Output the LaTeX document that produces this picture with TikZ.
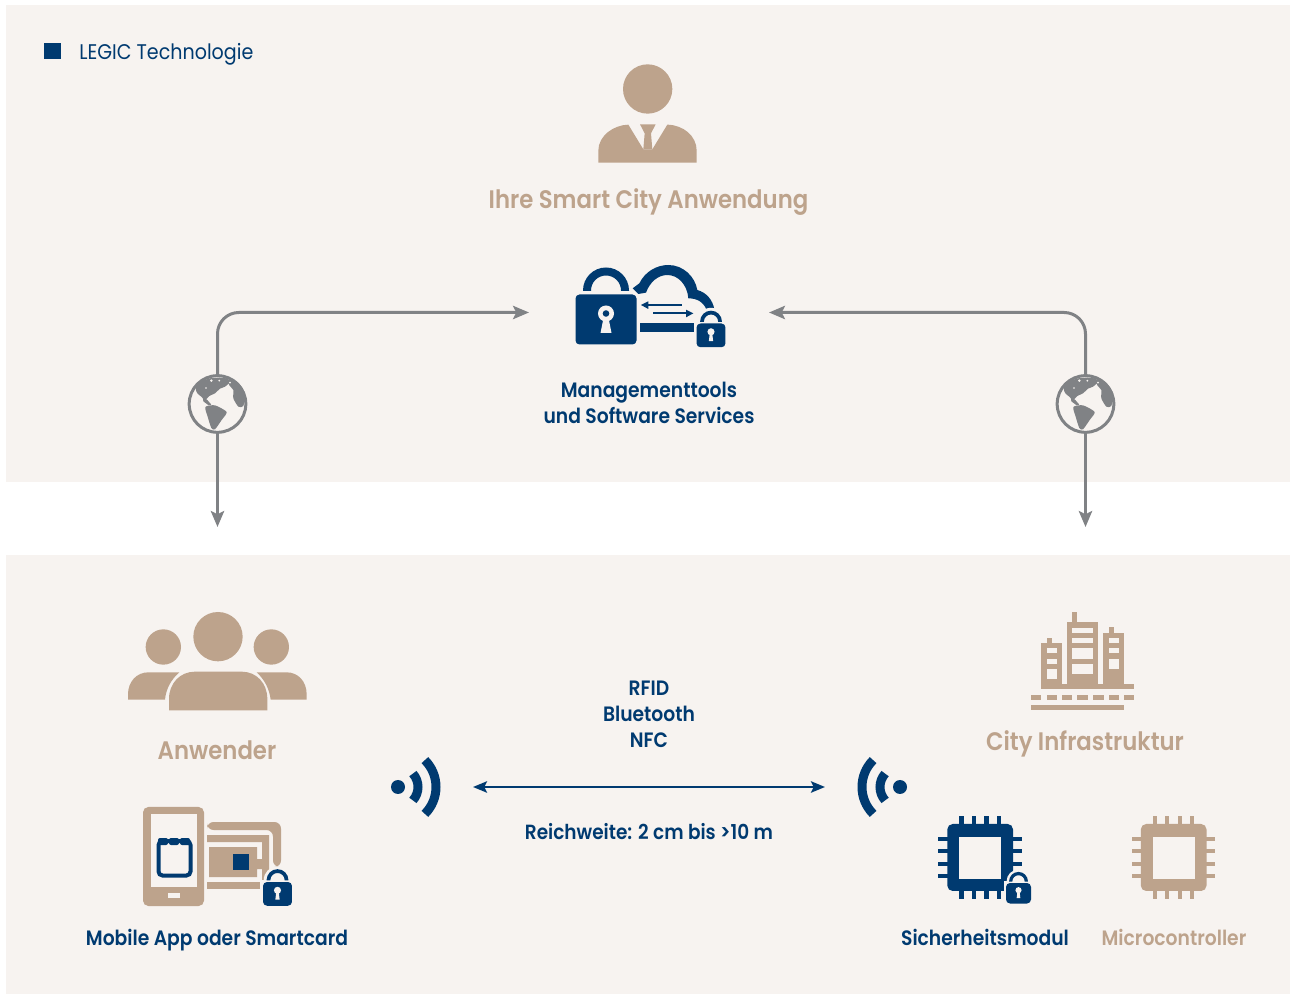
\documentclass[tikz,border=0pt]{standalone}
\usepackage{fontspec}
\setmainfont{Poppins}[FakeStretch=0.9,BoldFont={Poppins SemiBold}]
\usetikzlibrary{arrows.meta}
\definecolor{bgc}{HTML}{F7F3F0}
\definecolor{tan}{HTML}{BDA38C}
\definecolor{navy}{HTML}{003A70}
\definecolor{gry}{HTML}{808285}
\tikzset{
  lab/.style={inner sep=0pt,outer sep=0pt,align=center,text=navy,font=\bfseries\fontsize{15.6}{19.5}\selectfont},
  tanlab/.style={inner sep=0pt,outer sep=0pt,align=center,text=tan,font=\bfseries\fontsize{19}{24}\selectfont},
  globenode/.style={circle,draw=gry,fill=bgc,line width=2.25pt,minimum size=42.5pt,inner sep=0pt,outer sep=0pt},
  conn/.style={draw=gry,line width=2.25pt,-{Stealth[length=12pt,width=10pt,inset=2.5pt]}},
  wave/.style={draw=navy,line width=6.75pt}
}
\newcommand\lockicon[3]{%
  \begin{scope}[shift={(#1,#2)},scale=#3]
    \fill[bgc] (-36,-4) rectangle (36,55);
    \fill[bgc] (0,-4) circle[radius=29];
    \fill[navy,rounded corners=3] (-30.5,0) rectangle (30.5,50);
    \fill[navy] (-23,-3.5) -- (-23,-4) arc[start angle=180,end angle=360,radius=23] -- (23,-3.5) -- (15,-3.5) -- (15,-4) arc[start angle=360,end angle=180,radius=15] -- (-15,-3.5) -- cycle;
    \fill[bgc] (0,17.5) circle[radius=7.5];
    \fill[bgc] (-2.5,20) -- (2.5,20) -- (4.5,37) -- (-4.5,37) -- cycle;
  \end{scope}}
\newcommand\chipicon[2]{%
  \begin{scope}[shift={(#1,800)},scale=1/3]
    \foreach \p in {118,155,193,230} {
      \fill[#2] (\p,47) rectangle (\p+12.5,298);
    }
    \foreach \p in {110,148,185,222} {
      \fill[#2] (55,\p) rectangle (305,\p+12.5);
    }
    \fill[#2,rounded corners=4] (82,72) rectangle (279,273);
    \fill[bgc] (118,110) rectangle (244,236);
  \end{scope}}
\newcommand\continents[1]{%
  \begin{scope}[shift={(#1,360)},scale=1/3]
    \fill[gry] plot[smooth cycle,tension=0.4] coordinates {(77,84) (95,64) (125,54) (165,54) (182,64) (165,80) (150,86) (135,100) (118,108) (106,120) (94,110) (82,100)};
    \fill[gry] (98,110) -- (112,120) -- (124,134) -- (116,136) -- (100,124) -- cycle;
    \fill[gry] plot[smooth cycle,tension=0.4] coordinates {(106,141) (135,136) (170,156) (155,180) (135,208) (124,204) (113,170)};
    \fill[gry] plot[smooth cycle,tension=0.4] coordinates {(178,58) (202,66) (225,100) (220,138) (205,140) (190,115) (190,90) (178,76)};
    \fill[bgc] (124,62) circle[radius=4];
    \fill[bgc] (148,62) circle[radius=3];
    \fill[bgc] (108,84) circle[radius=2.5];
    \fill[bgc] (180,68) circle[radius=3];
  \end{scope}}
\begin{document}
\begin{tikzpicture}[x=0.75pt,y=-0.75pt]
\useasboundingbox (0,0) rectangle (1290,994);
\fill[white] (0,0) rectangle (1290,994);
\fill[bgc] (6,5) rectangle (1290,482);
\fill[bgc] (6,555) rectangle (1290,994);
% legend
\fill[navy] (44,43) rectangle (61,59);
\node[anchor=base west,inner sep=0pt,text=navy,font=\fontsize{15.9}{19}\selectfont] (legend) at (79,60) {LEGIC Technologie};
% person
\begin{scope}[shift={(590,60)},scale=1/3]
  \fill[tan] (173,87) circle[radius=74];
  \fill[tan] (25,308) -- (25,272) .. controls (25,228) and (70,195) .. (115,194) -- (160,268) -- (187,268) -- (232,194) .. controls (280,195) and (320,228) .. (320,272) -- (320,308) -- cycle;
  \fill[tan] (150,193) -- (197,193) -- (183,220) -- (187,268) -- (160,268) -- (164,220) -- cycle;
\end{scope}
\node[tanlab,anchor=base] (app) at (648.5,209) {Ihre Smart City Anwendung};
% management icon
\begin{scope}[shift={(560,250)},scale=1/3]
  \fill[navy] (238,100) .. controls (255,65) and (290,45) .. (325,45) .. controls (370,45) and (405,80) .. (412,120) .. controls (440,128) and (458,150) .. (463,178) -- (440,180) .. controls (430,155) and (410,145) .. (385,145) .. controls (382,105) and (355,75) .. (322,75) .. controls (295,75) and (270,95) .. (258,128) -- (235,132) -- (218,115) -- cycle;
  \fill[navy] (262,162) rectangle (365,168);
  \fill[navy] (243,165) -- (265,154) -- (265,177) -- cycle;
  \fill[navy] (278,187) rectangle (380,193);
  \fill[navy] (400,190) -- (378,179) -- (378,202) -- cycle;
  \fill[navy] (241,218) rectangle (404,247);
\end{scope}
\begin{scope}[shift={(606,294.5)}]
  \fill[navy,rounded corners=3] (-30.5,0) rectangle (30.5,50);
  \fill[navy] (-23,-3.5) -- (-23,-4) arc[start angle=180,end angle=360,radius=23] -- (23,-3.5) -- (15,-3.5) -- (15,-4) arc[start angle=360,end angle=180,radius=15] -- (-15,-3.5) -- cycle;
  \fill[bgc] (0,19) circle[radius=8];
  \fill[navy] (0,19) circle[radius=3.3];
  \fill[bgc] (-3,26) -- (3,26) -- (5.5,38.5) -- (-5.5,38.5) -- cycle;
\end{scope}
\lockicon{711}{323.5}{0.475}
\node[lab,anchor=base] (mgmt) at (649,424) {Managementtools\\und Software Services};
% globes and connectors
\node[globenode] (gL) at (217.5,404) {};
\node[globenode] (gR) at (1085.5,404) {};
\continents{170}
\continents{1038}
\coordinate (mL) at (529,312.5);
\coordinate (mR) at (769,312.5);
\coordinate (dL) at (217.5,527);
\coordinate (dR) at (1085.5,527);
\draw[conn,rounded corners=16pt] (gL.north) |- (mL);
\draw[conn,rounded corners=16pt] (gR.north) |- (mR);
\draw[conn] (gL.south) -- (dL);
\draw[conn] (gR.south) -- (dR);
% group
\begin{scope}[shift={(120,605)},scale=1/3]
  \fill[tan] (294,95) circle[radius=74];
  \fill[tan] (130,126) circle[radius=53];
  \fill[tan] (454,126) circle[radius=53];
  \fill[tan] (147,316) -- (147,282) .. controls (147,235) and (180,200) .. (225,200) -- (365,200) .. controls (410,200) and (442,235) .. (442,282) -- (442,316) -- cycle;
  \fill[tan] (24,284) -- (24,268) .. controls (24,230) and (50,202) .. (85,202) -- (178,202) .. controls (155,222) and (138,250) .. (135,284) -- cycle;
  \fill[tan] (560,284) -- (560,268) .. controls (560,230) and (535,202) .. (500,202) -- (410,202) .. controls (432,222) and (448,250) .. (452,284) -- cycle;
\end{scope}
\node[tanlab,anchor=base] (users) at (217,759) {Anwender};
% phone and card
\fill[tan,rounded corners=4] (143,807) rectangle (204,906);
\fill[bgc] (151,814) rectangle (197,887);
\fill[bgc] (168,893) rectangle (180,898);
\draw[navy,line width=3pt,rounded corners=3] (158.5,841) rectangle (190.5,875.5);
\foreach \p in {163,174,185} {\fill[navy,rounded corners=1.5] (\p-5,838) rectangle (\p+5,845);}
\begin{scope}
  \fill[tan,rounded corners=5] (207,822) -- (281,822) -- (281,867) -- (273,867) -- (273,830) -- (207,830) -- cycle;
  \fill[tan] (207,835) -- (269,835) -- (269,880) -- (262,880) -- (262,842) -- (207,842) -- cycle;
  \fill[tan] (209,847) -- (257,847) -- (257,859) -- (262,859) -- (262,869) -- (257,869) -- (257,877) -- (209,877) -- cycle;
  \fill[tan] (207,882) rectangle (261,889);
  \fill[navy] (233,853.5) rectangle (249,870);
\end{scope}
\lockicon{277.5}{882}{0.475}
\node[lab,anchor=base] (card) at (217,945) {Mobile App oder Smartcard};
% waves left
\fill[navy] (398,787) circle[radius=7];
\draw[wave] (398,787) ++(-42:20) arc[start angle=-42,end angle=42,radius=20];
\draw[wave] (398,787) ++(-45:38) arc[start angle=-45,end angle=45,radius=38];
% waves right
\fill[navy] (900,787) circle[radius=7];
\draw[wave] (900,787) ++(138:20) arc[start angle=138,end angle=222,radius=20];
\draw[wave] (900,787) ++(135:38) arc[start angle=135,end angle=225,radius=38];
% centre
\node[lab,anchor=base] (proto) at (649,748) {RFID\\Bluetooth\\NFC};
\coordinate (aL) at (473,787);
\coordinate (aR) at (825,787);
\draw[navy,line width=1.8pt,{Stealth[length=10.5pt,width=8.5pt,inset=2pt]}-{Stealth[length=10.5pt,width=8.5pt,inset=2pt]}] (aL) -- (aR);
\node[lab,anchor=base,font=\bfseries\fontsize{15.4}{19.5}\selectfont] (range) at (649,840) {Reichweite: 2 cm bis >10 m};
% buildings
\begin{scope}[shift={(1020,600)},scale=1/3]
  \fill[tan] (64,128) rectangle (126,268);
  \fill[tan] (80,113) rectangle (95,128);
  \fill[tan] (142,67) rectangle (235,268);
  \fill[tan] (157,36) rectangle (172,67);
  \fill[tan] (250,98) rectangle (312,268);
  \fill[tan] (266,82) rectangle (281,98);
  \fill[tan] (64,253) rectangle (343,268);
  \foreach \a/\b in {145/160,176/191,207/238} {\fill[bgc] (80,\a) rectangle (110,\b);}
  \foreach \a/\b in {83/98,114/129,145/176,191/222} {\fill[bgc] (157,\a) rectangle (219,\b);}
  \foreach \a/\b in {114/129,145/160,176/207} {\fill[bgc] (266,\a) rectangle (297,\b);}
  \foreach \a/\b in {33/64,80/111,126/157,172/203,220/251,266/297,312/343} {\fill[tan] (\a,284) rectangle (\b,299);}
  \fill[tan] (33,315) rectangle (312,331);
\end{scope}
\node[tanlab,anchor=base] (city) at (1085,751) {City Infrastruktur};
% chips
\chipicon{920}{navy}
\lockicon{1018.5}{883}{0.41}
\chipicon{1113.5}{tan}
\node[lab,anchor=base] (sec) at (985,945) {Sicherheitsmodul};
\node[lab,anchor=base,text=tan] (mcu) at (1174,945) {Microcontroller};
\end{tikzpicture}
\end{document}
